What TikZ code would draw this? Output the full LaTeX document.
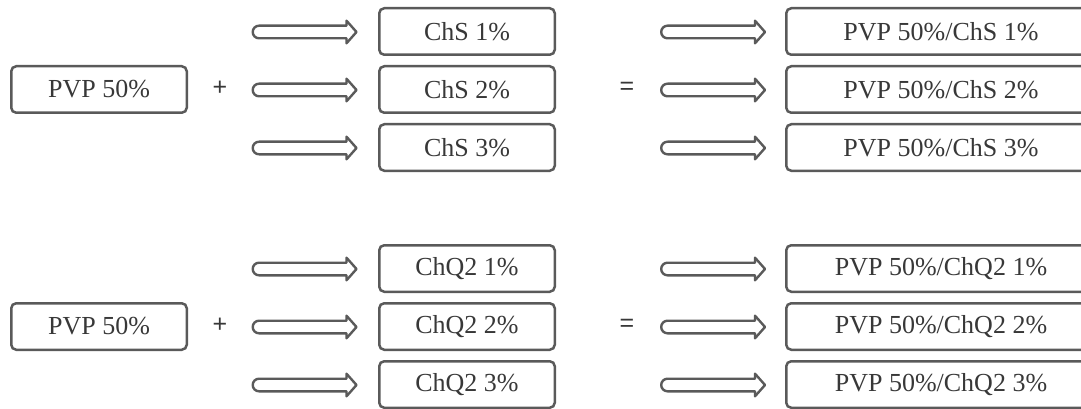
\documentclass[tikz,border=0pt]{standalone}
\usepackage{fontspec}
\setmainfont{Liberation Serif}
\newfontfamily\opfont{Liberation Sans}
\definecolor{boxgray}{HTML}{5A5A5A}
\definecolor{txtgray}{HTML}{383838}
\begin{document}
\begin{tikzpicture}[x=1pt,y=-1pt,
  box/.style={draw=boxgray, line width=2.5pt, rounded corners=5pt, text=txtgray,
    font=\fontsize{26}{30}\selectfont, inner sep=0pt, minimum height=46.5pt},
  smallbox/.style={box, minimum width=175.5pt},
  widebox/.style={box, minimum width=309.5pt},
  op/.style={text=txtgray, font=\opfont\fontsize{25}{28}\selectfont, inner sep=0pt},
  barrow/.pic={\draw[draw=boxgray, line width=2.4pt, line join=round]
     (41.5,-6.3) -- (41.5,-11.3) -- (51.5,0) -- (41.5,11.3) -- (41.5,6.3) -- (-46,6.3)
     arc(90:270:6.3) -- cycle;}
]
\useasboundingbox (0,0) rectangle (1081,409);
\clip (0,0) rectangle (1081,409);
% ---- top group ----
\node[smallbox] (pvpA) at (99,89.5) {PVP 50\%};
\node[op] (plusA) at (220,88) {+};
\pic at (305,32) {barrow};
\pic at (305,90) {barrow};
\pic at (305,148) {barrow};
\node[smallbox] (chs1) at (467,31.5) {ChS 1\%};
\node[smallbox] (chs2) at (467,89.5) {ChS 2\%};
\node[smallbox] (chs3) at (467,147.5) {ChS 3\%};
\node[op] (eqA) at (627,88) {=};
\pic at (713.5,32) {barrow};
\pic at (713.5,90) {barrow};
\pic at (713.5,148) {barrow};
\node[widebox] (resA1) at (941,31.5) {PVP 50\%/ChS 1\%};
\node[widebox] (resA2) at (941,89.5) {PVP 50\%/ChS 2\%};
\node[widebox] (resA3) at (941,147.5) {PVP 50\%/ChS 3\%};
% ---- bottom group ----
\node[smallbox] (pvpB) at (99,326.5) {PVP 50\%};
\node[op] (plusB) at (220,325) {+};
\pic at (305,269) {barrow};
\pic at (305,327) {barrow};
\pic at (305,385) {barrow};
\node[smallbox] (chq1) at (467,268.5) {ChQ2 1\%};
\node[smallbox] (chq2) at (467,326.5) {ChQ2 2\%};
\node[smallbox] (chq3) at (467,384.5) {ChQ2 3\%};
\node[op] (eqB) at (627,325) {=};
\pic at (713.5,269) {barrow};
\pic at (713.5,327) {barrow};
\pic at (713.5,385) {barrow};
\node[widebox] (resB1) at (941,268.5) {PVP 50\%/ChQ2 1\%};
\node[widebox] (resB2) at (941,326.5) {PVP 50\%/ChQ2 2\%};
\node[widebox] (resB3) at (941,384.5) {PVP 50\%/ChQ2 3\%};
\end{tikzpicture}
\end{document}
